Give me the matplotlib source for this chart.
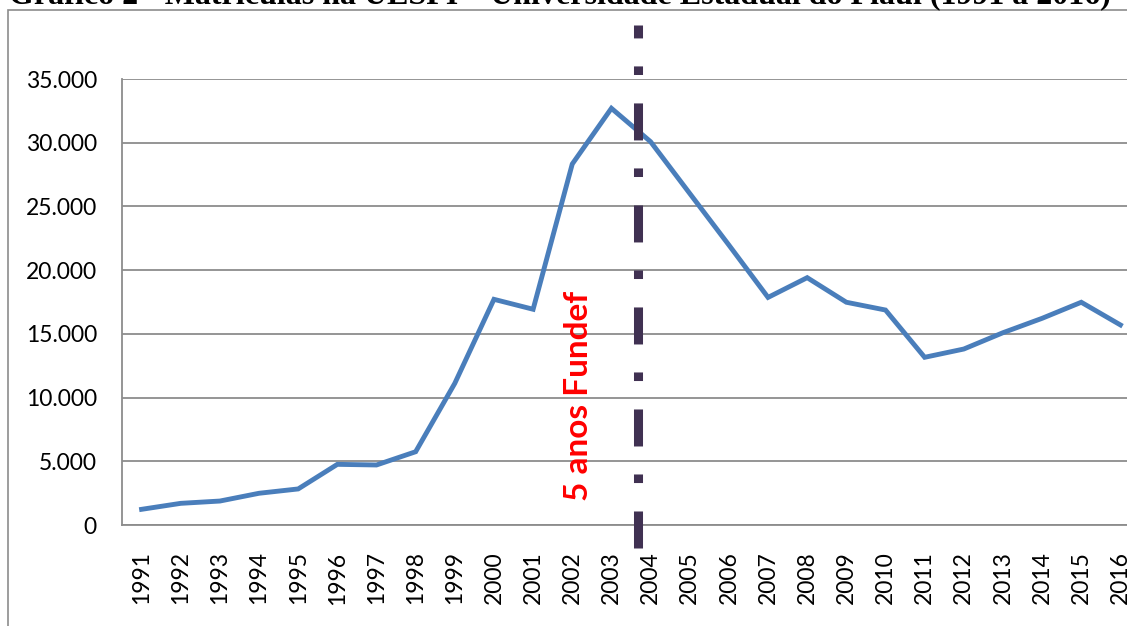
import matplotlib
matplotlib.use("Agg")
import matplotlib.pyplot as plt
from matplotlib.patches import Rectangle

# data
anos = [str(a) for a in range(1991, 2017)]
matriculas = [1230, 1700, 1880, 2490, 2830, 4760, 4710, 5750, 11120, 17710,
              16930, 28330, 32700, 30080, 26020, 21970, 17860, 19410, 17480, 16870,
              13160, 13810, 15090, 16220, 17480, 15700]
y_ticks = [0, 5000, 10000, 15000, 20000, 25000, 30000, 35000]
y_labels = ["0", "5.000", "10.000", "15.000", "20.000", "25.000", "30.000", "35.000"]
titulo = "Gráfico 2 - Matrículas na UESPI – Universidade Estadual do Piauí (1991 a 2016)"
marco_texto = "5 anos Fundef"
marco_x = 12.69          # dashed marker between 2003 and 2004 (category units)
texto_x, texto_y = 11.15, 10100

plt.rcParams["font.family"] = ["Lato", "DejaVu Sans"]

fig = plt.figure(figsize=(11.27, 6.26), dpi=100)
ax = fig.add_axes([122 / 1127, 101 / 626, 1018 / 1127, 446 / 626])

# outer chart border (cut by the image edge on the right and bottom)
fig.patches.append(Rectangle((8 / 1127, -0.2), 1.2, 0.2 + (626 - 10) / 626,
                             transform=fig.transFigure, fill=False,
                             edgecolor="#8c8c8c", linewidth=1.2))

# title only partly visible at the top edge, as in the source
fig.text(560 / 1127, 1 - 3 / 626, titulo, ha="center", va="baseline",
         family="Liberation Serif", fontweight="bold", fontsize=23)

x = range(len(anos))
ax.plot(x, matriculas, color="#4a7ebb", linewidth=3.5, solid_joinstyle="miter", zorder=3)

ax.axvline(marco_x, ymin=-0.0516, ymax=1.121, color="#403152", linewidth=6.5,
           linestyle=(0, (4.1, 3.15, 0.95, 3.1)), clip_on=False, zorder=4)
ax.text(texto_x, texto_y, marco_texto, rotation=90, color="#ff0000",
        fontweight="bold", fontsize=24, ha="center", va="center")

ax.set_xlim(-0.5, len(anos) - 0.5)
ax.set_ylim(0, 35000)
ax.set_xticks(list(x))
ax.set_xticklabels(anos, rotation=90, fontsize=16.5)
ax.set_yticks(y_ticks)
ax.set_yticklabels(y_labels, fontsize=16.5)
ax.tick_params(axis="x", length=0, pad=19)
ax.tick_params(axis="y", length=0, pad=18)

ax.grid(True, axis="y", color="#8c8c8c", linewidth=1.3)
ax.set_axisbelow(True)
for side in ["top", "right"]:
    ax.spines[side].set_visible(False)
for side in ["left", "bottom"]:
    ax.spines[side].set_color("#8c8c8c")
    ax.spines[side].set_linewidth(1.3)

fig.savefig("out.png", dpi=100)
